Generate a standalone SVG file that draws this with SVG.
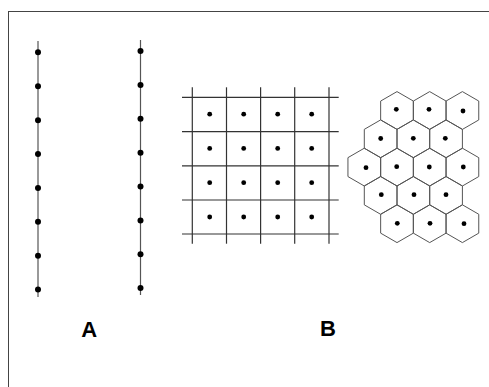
<svg xmlns="http://www.w3.org/2000/svg" xmlns:xlink="http://www.w3.org/1999/xlink" width="489" height="387" viewBox="0 0 489 387">
<style>
.frame{fill:none;stroke:#444;stroke-width:1}
.axis{stroke:#555;stroke-width:1.2}
.grid{stroke:#333;stroke-width:1.2}
.hex{fill:none;stroke:#555;stroke-width:1}
.bd{fill:#000}
.lbl{font-family:"Liberation Sans",Arial,sans-serif;font-weight:bold;font-size:22px;fill:#000;text-anchor:middle}
</style>
<defs>
<polygon id="hx" class="hex" points="0,-18.9 16.35,-9.45 16.35,9.45 0,18.9 -16.35,9.45 -16.35,-9.45"/>
</defs>
<rect width="489" height="387" fill="#fff"/>
<rect class="frame" x="8.5" y="11.5" width="490" height="390"/>
<g id="lineA1">
<line class="axis" x1="38" y1="41" x2="38" y2="297"/>
<g class="bd">
<circle cx="38" cy="52.3" r="3"/><circle cx="38" cy="86.3" r="3"/><circle cx="38" cy="120.2" r="3"/><circle cx="38" cy="154.1" r="3"/>
<circle cx="38" cy="187.9" r="3"/><circle cx="38" cy="221.8" r="3"/><circle cx="38" cy="255.7" r="3"/><circle cx="38" cy="289.4" r="3"/>
</g>
</g>
<g id="lineA2">
<line class="axis" x1="140.5" y1="40" x2="140.5" y2="295"/>
<g class="bd">
<circle cx="140.5" cy="51" r="3"/><circle cx="140.5" cy="85" r="3"/><circle cx="140.5" cy="118.8" r="3"/><circle cx="140.5" cy="152.7" r="3"/>
<circle cx="140.5" cy="186.6" r="3"/><circle cx="140.5" cy="220.4" r="3"/><circle cx="140.5" cy="254.3" r="3"/><circle cx="140.5" cy="288.1" r="3"/>
</g>
</g>
<g id="squareGrid">
<g class="grid">
<line x1="192.3" y1="87.3" x2="192.3" y2="243.7"/>
<line x1="226.5" y1="87.3" x2="226.5" y2="243.7"/>
<line x1="260.6" y1="87.3" x2="260.6" y2="243.7"/>
<line x1="294.7" y1="87.3" x2="294.7" y2="243.7"/>
<line x1="329" y1="87.3" x2="329" y2="243.7"/>
<line x1="182" y1="97.3" x2="338.7" y2="97.3"/>
<line x1="182" y1="131.6" x2="338.7" y2="131.6"/>
<line x1="182" y1="165.8" x2="338.7" y2="165.8"/>
<line x1="182" y1="200" x2="338.7" y2="200"/>
<line x1="182" y1="234" x2="338.7" y2="234"/>
</g>
<g class="bd">
<circle cx="209.7" cy="114.2" r="2.4"/><circle cx="243.7" cy="114.2" r="2.4"/><circle cx="277.7" cy="114.2" r="2.4"/><circle cx="311.7" cy="114.2" r="2.4"/>
<circle cx="209.7" cy="148.4" r="2.4"/><circle cx="243.7" cy="148.4" r="2.4"/><circle cx="277.7" cy="148.4" r="2.4"/><circle cx="311.7" cy="148.4" r="2.4"/>
<circle cx="209.7" cy="182.7" r="2.4"/><circle cx="243.7" cy="182.7" r="2.4"/><circle cx="277.7" cy="182.7" r="2.4"/><circle cx="311.7" cy="182.7" r="2.4"/>
<circle cx="209.7" cy="217" r="2.4"/><circle cx="243.7" cy="217" r="2.4"/><circle cx="277.7" cy="217" r="2.4"/><circle cx="311.7" cy="217" r="2.4"/>
</g>
</g>
<g id="hexGrid">
<use xlink:href="#hx" x="397" y="110.5"/><use xlink:href="#hx" x="429.7" y="110.5"/><use xlink:href="#hx" x="462.4" y="110.5"/>
<use xlink:href="#hx" x="380.65" y="138.8"/><use xlink:href="#hx" x="413.35" y="138.8"/><use xlink:href="#hx" x="446.05" y="138.8"/>
<use xlink:href="#hx" x="364.3" y="167.1"/><use xlink:href="#hx" x="397" y="167.1"/><use xlink:href="#hx" x="429.7" y="167.1"/><use xlink:href="#hx" x="462.4" y="167.1"/>
<use xlink:href="#hx" x="380.65" y="195.4"/><use xlink:href="#hx" x="413.35" y="195.4"/><use xlink:href="#hx" x="446.05" y="195.4"/>
<use xlink:href="#hx" x="397" y="223.7"/><use xlink:href="#hx" x="429.7" y="223.7"/><use xlink:href="#hx" x="462.4" y="223.7"/>
<g class="bd">
<circle cx="396.3" cy="109.3" r="2.4"/><circle cx="429" cy="109.3" r="2.4"/><circle cx="463" cy="111" r="2.4"/>
<circle cx="380.7" cy="138.5" r="2.4"/><circle cx="413.3" cy="138.3" r="2.4"/><circle cx="445.3" cy="138.3" r="2.4"/>
<circle cx="366" cy="167.7" r="2.4"/><circle cx="396.7" cy="166.7" r="2.4"/><circle cx="429.3" cy="167" r="2.4"/><circle cx="463.3" cy="167" r="2.4"/>
<circle cx="381.3" cy="194.7" r="2.4"/><circle cx="414" cy="194.7" r="2.4"/><circle cx="446" cy="194.7" r="2.4"/>
<circle cx="397.3" cy="223.3" r="2.4"/><circle cx="430" cy="223.3" r="2.4"/><circle cx="464" cy="223.7" r="2.4"/>
</g>
</g>
<text class="lbl" x="89.2" y="336.5">A</text>
<text class="lbl" x="328" y="335.5">B</text>
</svg>
